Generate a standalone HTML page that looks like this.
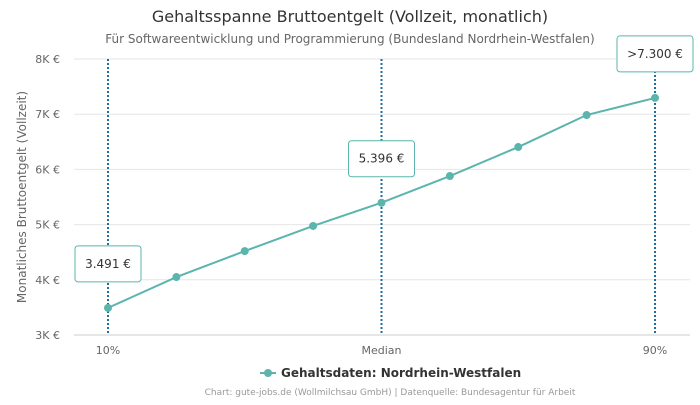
<!DOCTYPE html>
<html><head><meta charset="utf-8"><style>
body{margin:0;background:#fff;font-family:"Liberation Sans","DejaVu Sans",sans-serif;}
svg text{font-family:"DejaVu Sans","Liberation Sans",sans-serif;}
</style></head><body>
<svg id="chart" width="700" height="400" xmlns="http://www.w3.org/2000/svg">
<text x="350" y="22" text-anchor="middle" font-size="16" fill="#333">Gehaltsspanne Bruttoentgelt (Vollzeit, monatlich)</text>
<text x="350" y="43" text-anchor="middle" font-size="12" fill="#666">Für Softwareentwicklung und Programmierung (Bundesland Nordrhein-Westfalen)</text>
<text transform="translate(26,197) rotate(-90)" text-anchor="middle" font-size="12" fill="#666">Monatliches Bruttoentgelt (Vollzeit)</text>
<g id="grid"></g><g id="marks"></g>
<g>
<line x1="260" y1="373" x2="276" y2="373" stroke="#5bb5ad" stroke-width="2"/>
<circle cx="268" cy="373" r="4" fill="#5bb5ad"/>
<text x="281" y="377" font-size="12" font-weight="bold" fill="#333">Gehaltsdaten: Nordrhein-Westfalen</text>
</g>
<text x="390" y="395" text-anchor="middle" font-size="9" fill="#999">Chart: gute-jobs.de (Wollmilchsau GmbH) | Datenquelle: Bundesagentur für Arbeit</text>
</svg>
<script>
const yTicks=[3000,4000,5000,6000,7000,8000];
const yTickLabels=["3K €","4K €","5K €","6K €","7K €","8K €"];
const values=[3491,4050,4520,4975,5396,5880,6405,6985,7295];
const markerIdx=[0,4,8];
const markerXLabels=["10%","Median","90%"];
const markerBoxLabels=["3.491 €","5.396 €",">7.300 €"];
const NS="http://www.w3.org/2000/svg";
const x0=108,x1=655,yb=335,yt=59,ymin=3000,ymax=8000;
const xs=i=>x0+(x1-x0)*i/(values.length-1);
const ys=v=>yb-(v-ymin)/(ymax-ymin)*(yb-yt);
function mk(t,a,p){const e=document.createElementNS(NS,t);for(const k in a)e.setAttribute(k,a[k]);p.appendChild(e);return e;}
const grid=document.getElementById('grid'),marks=document.getElementById('marks');
yTicks.forEach((t,i)=>{
 const l=mk('line',{x1:74,x2:690,y1:ys(t),y2:ys(t),stroke:i==0?'#ccc':'#e6e6e6'},grid);
 
 
 const tx=mk('text',{x:60,y:ys(t)+4,'text-anchor':'end','font-size':11,fill:'#666'},grid);
 tx.textContent=yTickLabels[i];
 
 
});
markerIdx.forEach((idx,j)=>{
 const l=mk('line',{x1:xs(idx),x2:xs(idx),y1:yt,y2:yb,stroke:'#1f6e9c','stroke-width':2,'stroke-dasharray':'2,2'},grid);
 
 
 const tx=mk('text',{x:xs(idx),y:354,'text-anchor':'middle','font-size':11,fill:'#666'},grid);
 tx.textContent=markerXLabels[j];
 
 
});
const pl=mk('polyline',{points:values.map((v,i)=>xs(i)+','+ys(v)).join(' '),fill:'none',stroke:'#5bb5ad','stroke-width':2},marks);


values.forEach((v,i)=>{
 const c=mk('circle',{cx:xs(i),cy:ys(v),r:4,fill:'#5bb5ad'},marks);
 
 
});
markerIdx.forEach((idx,j)=>{
 const cx=Math.min(xs(idx),658),cy=ys(values[idx])-44;
 const w=j==2?76:66;
 const bx=Math.min(cx-w/2,697-w);
 const g=mk('g',{},marks);
 
 
 mk('rect',{x:bx,y:cy-18,width:w,height:36,rx:3,fill:'#fff',stroke:'#5bb5ad'},g);
 const t=mk('text',{x:bx+w/2,y:cy+4,'text-anchor':'middle','font-size':12,fill:'#333'},g);
 t.textContent=markerBoxLabels[j];
});
</script>
</body></html>
